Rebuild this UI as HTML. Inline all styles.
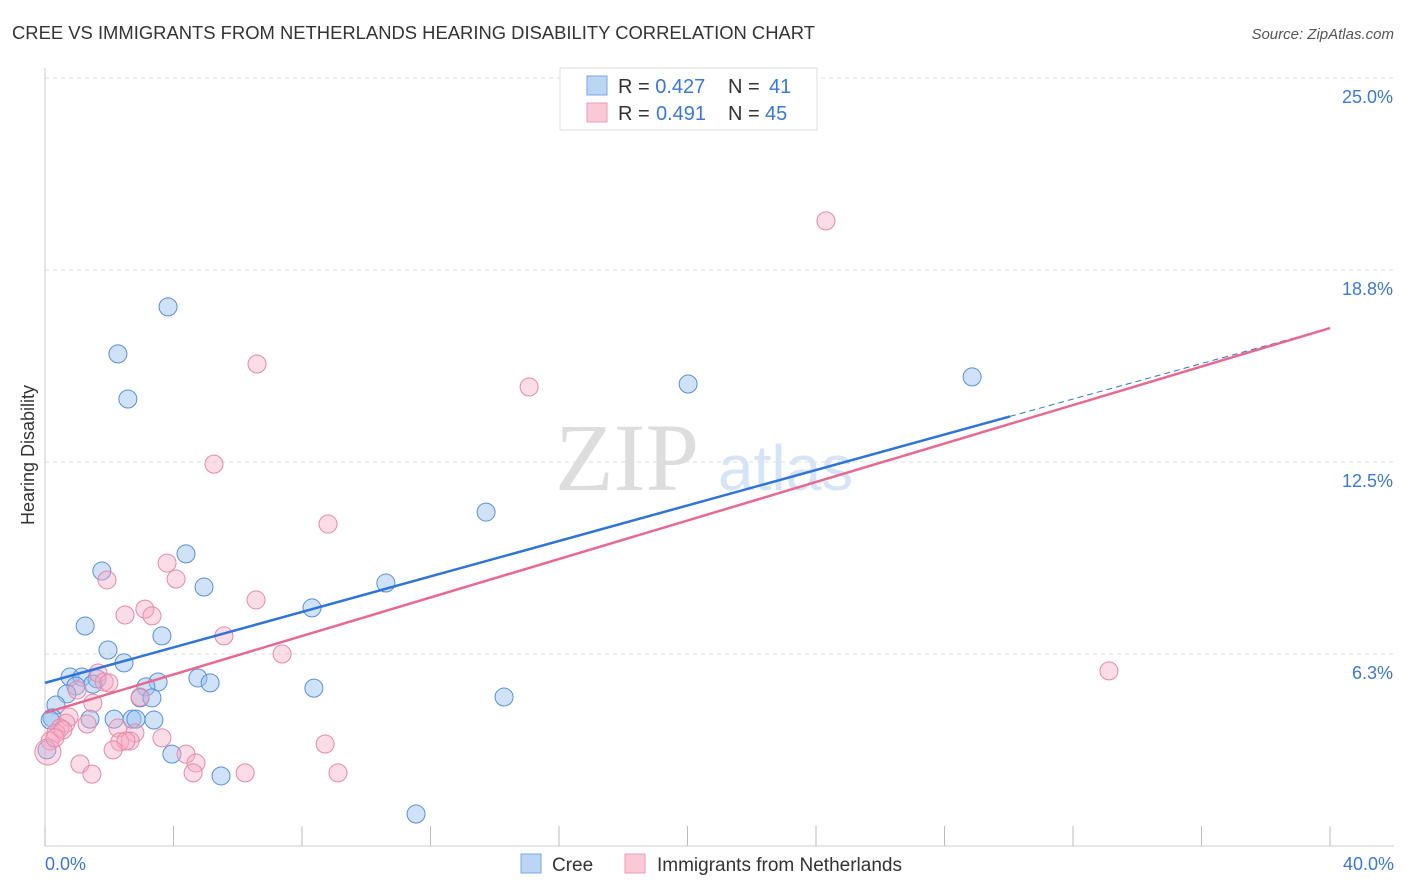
<!DOCTYPE html>
<html><head><meta charset="utf-8"><style>
body{margin:0;background:#fff;font-family:"Liberation Sans",sans-serif}
svg{display:block}
</style></head><body>
<svg id="chart" width="1406" height="892">
<text x="12" y="39" font-size="18" fill="#333" textLength="803" lengthAdjust="spacingAndGlyphs">CREE VS IMMIGRANTS FROM NETHERLANDS HEARING DISABILITY CORRELATION CHART</text>
<text x="1394" y="39" font-size="15" fill="#555" font-style="italic" text-anchor="end">Source: ZipAtlas.com</text>
<g id="grid"></g>
<line x1="45" y1="68" x2="45" y2="846" stroke="#ccc"/>
<line x1="45" y1="846" x2="1394" y2="846" stroke="#ccc"/>
<g id="xticks"></g>
<text x="555" y="490" font-size="96" fill="#ddd" font-family="Liberation Serif,serif">ZIP</text>
<text x="718" y="490" font-size="64" fill="#d6e4f5">atlas</text>
<text x="34" y="455" font-size="18" fill="#333" transform="rotate(-90 34 455)" text-anchor="middle">Hearing Disability</text>
<text x="45" y="870" font-size="18" fill="#3a78d4">0.0%</text>
<text x="1394" y="870" font-size="18" fill="#3a78d4" text-anchor="end">40.0%</text>
<g id="points"></g>
<g id="lines"></g>
<g>
<rect x="560" y="68" width="257" height="62" fill="#fff" stroke="#ddd"/>
<rect x="587" y="76" width="20" height="19" fill="#bcd5f5" stroke="#7aa8e6"/>
<rect x="587" y="103" width="20" height="19" fill="#f9c9d7" stroke="#ee9ab5"/>
<text x="618" y="93" font-size="20" fill="#333">R = <tspan fill="#3a78d4">0.427</tspan><tspan x="728">N = </tspan><tspan x="769" fill="#3a78d4">41</tspan></text>
<text x="618" y="120" font-size="20" fill="#333">R = <tspan x="656" fill="#3a78d4">0.491</tspan><tspan x="728">N = </tspan><tspan x="765" fill="#3a78d4">45</tspan></text>
</g>
<g>
<rect x="521" y="854" width="20" height="19" fill="#bcd5f5" stroke="#7aa8e6"/>
<text x="552" y="871" font-size="19" fill="#333">Cree</text>
<rect x="625" y="854" width="20" height="19" fill="#f9c9d7" stroke="#ee9ab5"/>
<text x="657" y="871" font-size="19" fill="#333">Immigrants from Netherlands</text>
</g>
</svg>
<script>
const yTicks=[6.25,12.5,18.75,25];
const yTickLabels=["6.3%","12.5%","18.8%","25.0%"];
const creeX=[3.83,2.27,2.58,20.02,28.86,13.73,4.39,1.77,4.95,10.61,8.31,1.25,3.64,1.96,2.46,0.78,1.15,1.62,0.96,1.49,3.52,3.14,2.96,3.33,0.68,0.34,4.76,5.14,8.37,14.29,0.22,1.40,2.15,2.71,2.83,3.39,3.95,5.48,11.55,0.06,0.16];
const creeY=[17.55,16.02,14.55,15.04,15.27,10.87,9.51,8.95,8.43,8.56,7.75,7.16,6.84,6.38,5.96,5.50,5.50,5.44,5.21,5.27,5.34,5.18,4.82,4.82,4.95,4.59,5.47,5.31,5.14,4.85,4.17,4.13,4.13,4.13,4.13,4.10,2.99,2.28,1.04,3.13,4.10];
const nethX=[24.31,6.60,15.07,5.26,8.81,3.80,1.93,4.08,6.57,2.49,3.11,3.33,5.57,7.38,33.12,1.65,1.84,1.99,1.00,1.49,2.96,0.75,0.65,1.31,0.47,0.34,2.27,0.16,0.09,2.80,2.33,2.65,3.64,2.52,4.39,8.72,1.09,1.46,4.70,4.61,6.23,9.12,2.12,0.56,0.31];
const nethY=[20.35,15.69,14.94,12.43,10.48,9.21,8.66,8.69,8.01,7.52,7.71,7.49,6.84,6.25,5.70,5.63,5.34,5.31,5.08,4.65,4.85,4.20,4.00,3.97,3.84,3.68,3.84,3.42,3.06,3.68,3.39,3.42,3.52,3.42,2.99,3.32,2.67,2.34,2.70,2.38,2.38,2.38,3.13,3.78,3.52];
const creeLine=[5.31,16.86], creeSolidEnd=30.04;
const nethLine=[4.33,16.86];
const sx=v=>45+v/40*1285, sy=v=>846-v*30.72;
const NS="http://www.w3.org/2000/svg";
function mk(t,a,p){const e=document.createElementNS(NS,t);for(const k in a)e.setAttribute(k,a[k]);p.appendChild(e);return e;}
const grid=document.getElementById('grid');
yTicks.forEach((t,i)=>{
 const l=mk('line',{x1:45,x2:1394,y1:sy(t),y2:sy(t),stroke:'#ddd','stroke-dasharray':'4,4'},grid);
 
 
 const tx=mk('text',{x:1393,y:sy(t)+25,'font-size':18,fill:'#3a78d4','text-anchor':'end'},grid);
 tx.textContent=yTickLabels[i];
 
 
});
const xt=document.getElementById('xticks');
for(let i=0;i<=10;i++){
 const l=mk('line',{x1:sx(i*4),x2:sx(i*4),y1:826,y2:846,stroke:'#bbb'},xt);
 
 
}
const pts=document.getElementById('points');
creeX.forEach((x,i)=>{
 const c=mk('circle',{cx:sx(x),cy:sy(creeY[i]),r:9,fill:'rgba(150,190,240,0.45)',stroke:'#5a8ed8','stroke-width':1},pts);
 
 
});
nethX.forEach((x,i)=>{
 const c=mk('circle',{cx:sx(x),cy:sy(nethY[i]),r:(i==28?13:9),fill:'rgba(245,170,195,0.4)',stroke:'#e888a8','stroke-width':1},pts);
 
 
});
const ln=document.getElementById('lines');
const yAt=(L,x)=>L[0]+(L[1]-L[0])*x/40;
let a=mk('line',{x1:sx(0),y1:sy(creeLine[0]),x2:sx(creeSolidEnd),y2:sy(yAt(creeLine,creeSolidEnd)),stroke:'#2f74d8','stroke-width':2.5},ln);


a=mk('line',{x1:sx(creeSolidEnd),y1:sy(yAt(creeLine,creeSolidEnd)),x2:sx(40),y2:sy(creeLine[1]),stroke:'#2f74d8','stroke-width':1,'stroke-dasharray':'6,4'},ln);


a=mk('line',{x1:sx(0),y1:sy(nethLine[0]),x2:sx(40),y2:sy(nethLine[1]),stroke:'#e8698f','stroke-width':2.5},ln);


</script>
</body></html>
